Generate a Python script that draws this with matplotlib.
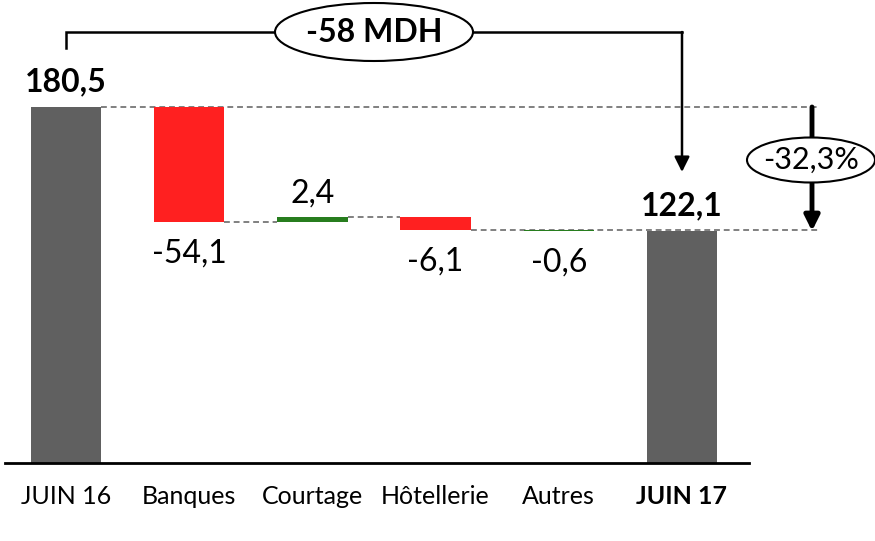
import matplotlib
matplotlib.use("Agg")
import matplotlib.pyplot as plt
from matplotlib.patches import Ellipse

plt.rcParams['font.family'] = ['Lato', 'DejaVu Sans']

# ---- data ----
categories = ["JUIN 16", "Banques", "Courtage", "Hôtellerie", "Autres", "JUIN 17"]
start_value = 180.5
deltas = [-54.1, 2.4, -6.1, -0.6]
end_value = 122.1
value_labels = ["180,5", "-54,1", "2,4", "-6,1", "-0,6", "122,1"]
total_change_label = "-58 MDH"
pct_change_label = "-32,3%"

GRAY = "#606060"
RED = "#FF2020"
GREEN = "#277D1E"
DASH = "#808080"
bar_colors = [GRAY, RED, GREEN, RED, GREEN, GRAY]

W, H = 875, 541
fig = plt.figure(figsize=(W / 100, H / 100), dpi=100)

# pixel geometry of the plotting area
px_per_x = 123.2
px_per_y = 2.123
x0_px = 66.0          # centre of first bar
base_px = 463.0       # axis line
top_px = 107.0        # pixel of start_value

ax = fig.add_axes([0, (H - base_px) / H, 1, base_px / H])
ax.set_xlim(-x0_px / px_per_x, (W - x0_px) / px_per_x)
ymin = start_value - (base_px - top_px) / px_per_y
ymax = start_value + top_px / px_per_y
ax.set_ylim(ymin, ymax)

def dx(px):
    return px / px_per_x

def dy(px):
    return px / px_per_y

bw = 0.57
n = len(categories)
xs = list(range(n))

# waterfall geometry
bottoms, heights = [0], [start_value]
level = start_value
levels = [start_value]
for d in deltas:
    new = level + d
    bottoms.append(min(level, new))
    heights.append(abs(d))
    level = new
    levels.append(level)
bottoms.append(0)
heights.append(end_value)

# dashed connector lines (behind bars)
ls_d = (0, (3, 2))
right_end = 5 + dx(136)
ax.plot([0 + bw / 2, right_end], [start_value, start_value], ls=ls_d,
        color=DASH, lw=1.4, zorder=1, clip_on=False)
ax.plot([1 + bw / 2, 2 - bw / 2], [levels[1], levels[1]], ls=ls_d, color=DASH, lw=1.4, zorder=1)
ax.plot([2 + bw / 2, 3 - bw / 2], [levels[2], levels[2]], ls=ls_d, color=DASH, lw=1.4, zorder=1)
ax.plot([3 + bw / 2, right_end], [levels[3], levels[3]], ls=ls_d,
        color=DASH, lw=1.4, zorder=1, clip_on=False)

ax.bar(xs, heights, bottom=bottoms, width=bw, color=bar_colors, zorder=2)

# value labels
fs_val = 23
for i in xs:
    lab = value_labels[i]
    if i == 0 or i == n - 1:
        top = bottoms[i] + heights[i]
        ax.annotate(lab, (i, top), xytext=(0, 11), textcoords="offset points",
                    ha="center", va="baseline", fontsize=fs_val, fontweight="bold",
                    annotation_clip=False)
    elif deltas[i - 1] > 0 and i != 4:
        top = bottoms[i] + heights[i]
        ax.annotate(lab, (i, top), xytext=(0, 10), textcoords="offset points",
                    ha="center", va="baseline", fontsize=fs_val, annotation_clip=False)
    else:
        ax.annotate(lab, (i, bottoms[i]), xytext=(0, -12), textcoords="offset points",
                    ha="center", va="top", fontsize=fs_val, annotation_clip=False)

# axis
for s in ["top", "left", "right"]:
    ax.spines[s].set_visible(False)
ax.spines["bottom"].set_linewidth(2)
ax.spines["bottom"].set_bounds(-dx(x0_px - 4.5), dx(749 - x0_px))
ax.set_yticks([])
ax.set_xticks(xs)
ax.set_xticklabels(categories, fontsize=18)
ax.tick_params(axis="x", length=0, pad=16)
ax.get_xticklabels()[-1].set_fontweight("bold")

# bracket with -58 MDH
y_br = start_value + dy(top_px - 32)
y_left_end = start_value + dy(top_px - 48)
y_tip = end_value + dy(231 - 172)
ax.plot([0, 0, 5], [y_left_end, y_br, y_br], color="black", lw=1.8,
        clip_on=False, zorder=3, solid_joinstyle="miter")
ax.annotate("", xy=(5, y_tip), xytext=(5, y_br),
            arrowprops=dict(arrowstyle="-|>,head_length=0.9,head_width=0.45", color="black",
                            lw=1.8, shrinkA=0, shrinkB=0), annotation_clip=False)
ex = dx(374 - x0_px)
ax.add_patch(Ellipse((ex, y_br), dx(198), dy(58), fc="white", ec="black", lw=1.5,
                     clip_on=False, zorder=4))
ax.text(ex, y_br, total_change_label, ha="center", va="center", fontsize=fs_val,
        fontweight="bold", zorder=5, clip_on=False)

# right percentage arrow
xa = dx(812 - x0_px)
ax.annotate("", xy=(xa, end_value), xytext=(xa, start_value),
            arrowprops=dict(arrowstyle="-|>,head_length=0.9,head_width=0.45", color="black",
                            lw=3.5, shrinkA=0, shrinkB=0), annotation_clip=False)
ye = start_value - dy(160 - top_px)
ax.add_patch(Ellipse((dx(811 - x0_px), ye), dx(128), dy(45), fc="white", ec="black",
                     lw=1.5, clip_on=False, zorder=4))
ax.text(dx(811 - x0_px), ye, pct_change_label, ha="center", va="center", fontsize=22,
        zorder=5, clip_on=False)

fig.savefig("out.png", dpi=100)
